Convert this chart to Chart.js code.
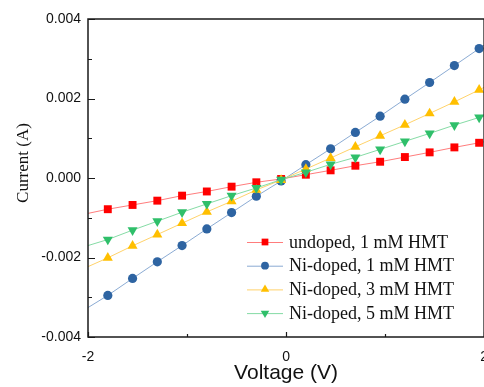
<!DOCTYPE html>
<html>
<head>
<meta charset="utf-8">
<script src="https://cdn.jsdelivr.net/npm/chart.js@4"></script>
<style>
  html, body { margin: 0; padding: 0; background: #fff; overflow: hidden; }
  #wrap { width: 484px; height: 387px; overflow: hidden; }
</style>
</head>
<body>
<div id="wrap"><canvas id="ivChart" width="500" height="387"></canvas></div>
<script>
// voltage points (the first and last only carry the line to the frame edge)
const voltage = [-2, -1.8, -1.55, -1.3, -1.05, -0.8, -0.55, -0.3, -0.05, 0.2, 0.45, 0.7, 0.95, 1.2, 1.45, 1.7, 1.95, 2];

const undoped1 = [-0.00089, -0.000785, -0.000678, -0.00057, -0.000444, -0.000339, -0.000218, -0.000108, -0.000025, 0.000083, 0.000193, 0.000309, 0.000409, 0.000527, 0.000645, 0.00077, 0.000886, 0.00091];
const niDoped1 = [-0.00326, -0.002954, -0.002527, -0.002108, -0.001699, -0.00128, -0.000871, -0.000459, -0.000075, 0.000334, 0.000735, 0.001147, 0.001556, 0.001982, 0.002402, 0.002828, 0.003255, 0.00334];
const niDoped3 = [-0.00223, -0.002008, -0.001706, -0.001423, -0.001137, -0.000853, -0.000585, -0.0003, -0.00005, 0.000226, 0.000502, 0.000785, 0.001061, 0.001338, 0.001624, 0.001915, 0.002216, 0.00228];
const niDoped5 = [-0.0017, -0.001548, -0.001312, -0.001087, -0.000861, -0.000652, -0.000444, -0.000251, -0.000043, 0.000143, 0.000344, 0.000519, 0.00072, 0.000921, 0.001122, 0.00133, 0.001523, 0.00156];

const seriesLabels = ['undoped, 1 mM HMT', 'Ni-doped, 1 mM HMT', 'Ni-doped, 3 mM HMT', 'Ni-doped, 5 mM HMT'];
const xLabelTicks = [-2, 0, 2];
const yLabelTicks = [-0.004, -0.002, 0, 0.002, 0.004];

function puntos(valores) {
    return voltage.map((v, i) => ({ x: v, y: valores[i] }));
}

// sin marcador en los extremos
function radio(r) {
    return ctx => (ctx.dataIndex === 0 || ctx.dataIndex === voltage.length - 1) ? 0 : r;
}

function serie(label, valores, color, linea, estilo, r, rot, orden) {
    return {
        label: label,
        data: puntos(valores),
        borderColor: linea,
        backgroundColor: color,
        pointBackgroundColor: color,
        pointBorderColor: color,
        pointBorderWidth: 0,
        borderWidth: 1,
        pointStyle: estilo,
        pointRotation: rot,
        pointRadius: radio(r),
        pointHoverRadius: radio(r),
        order: orden,
        tension: 0,
        _r: r
    };
}

function marcador(ctx, ds, x, y, escala) {
    const opts = {
        pointStyle: ds.pointStyle,
        rotation: ds.pointRotation,
        radius: ds._r * escala,
        borderWidth: 0
    };
    ctx.fillStyle = ds.pointBackgroundColor;
    ctx.strokeStyle = ds.pointBackgroundColor;
    Chart.helpers.drawPoint(ctx, opts, x, y);
}

// marco, ticks hacia adentro, titulo del eje y y leyenda
const extras = {
    id: 'extras',
    afterDraw(chart) {
        const ctx = chart.ctx;
        const a = chart.chartArea;
        const xs = chart.scales.x;
        const ys = chart.scales.y;
        ctx.save();
        ctx.strokeStyle = '#1a1a1a';
        ctx.lineWidth = 1.5;
        ctx.strokeRect(a.left, a.top, a.right - a.left, a.bottom - a.top);

        ctx.lineWidth = 1.2;
        ctx.beginPath();
        for (let v = -2; v <= 2; v += 1) {
            const px = Math.round(xs.getPixelForValue(v)) + 0.5;
            const len = (v % 2 === 0) ? 5 : 3;
            ctx.moveTo(px, a.bottom);
            ctx.lineTo(px, a.bottom - len);
        }
        for (let k = -4; k <= 4; k++) {
            const py = Math.round(ys.getPixelForValue(k * 0.001)) + 0.5;
            const len = (k % 2 === 0) ? 7 : 4;
            ctx.moveTo(a.left, py);
            ctx.lineTo(a.left + len, py);
        }
        ctx.stroke();

        // titulo eje y
        ctx.save();
        ctx.translate(24, 163);
        ctx.rotate(-Math.PI / 2);
        ctx.fillStyle = '#111';
        ctx.font = '17px "Liberation Serif", "Times New Roman", serif';
        ctx.textAlign = 'center';
        ctx.textBaseline = 'middle';
        ctx.fillText('Current (A)', 0, 0);
        ctx.restore();

        // leyenda
        const x0 = a.left + 159;
        const y0 = a.top + 223;
        ctx.font = '18px "Liberation Serif", "Times New Roman", serif';
        ctx.textAlign = 'left';
        ctx.textBaseline = 'middle';
        chart.data.datasets.forEach((ds, i) => {
            const y = y0 + i * 23.7;
            ctx.strokeStyle = ds.borderColor;
            ctx.lineWidth = 1;
            ctx.beginPath();
            ctx.moveTo(x0, y + 0.5);
            ctx.lineTo(x0 + 36, y + 0.5);
            ctx.stroke();
            marcador(ctx, ds, x0 + 18, y, 0.85);
            ctx.fillStyle = '#111';
            ctx.fillText(ds.label, x0 + 42, y + 1);
        });
        ctx.restore();
    }
};

const datasets = [
    serie(seriesLabels[0], undoped1, '#ff0000', 'rgba(255, 80, 80, 0.75)', 'rect', 5.6, 0, 4),
    serie(seriesLabels[1], niDoped1, '#2e64a2', 'rgba(110, 150, 200, 0.8)', 'circle', 4.6, 0, 3),
    serie(seriesLabels[2], niDoped3, '#ffbf00', 'rgba(255, 205, 90, 0.9)', 'triangle', 5.8, 0, 2),
    serie(seriesLabels[3], niDoped5, '#2fbf6a', 'rgba(120, 215, 155, 0.9)', 'triangle', 5.8, 180, 1)
];

new Chart(document.getElementById('ivChart').getContext('2d'), {
    type: 'line',
    data: { datasets: datasets },
    options: {
        responsive: false,
        animation: false,
        devicePixelRatio: 1,
        layout: { padding: { top: 19, right: 14, left: 0, bottom: 0 } },
        plugins: { legend: { display: false }, tooltip: { enabled: false } },
        scales: {
            x: {
                type: 'linear',
                min: -2,
                max: 2,
                afterFit: s => { s.height = 50; },
                grid: { display: false, drawTicks: false },
                border: { display: false },
                ticks: {
                    stepSize: 1,
                    padding: 12,
                    color: '#111',
                    font: { family: '"Liberation Sans", Arial, sans-serif', size: 14 },
                    callback: v => xLabelTicks.includes(v) ? String(v) : ''
                },
                title: {
                    display: true,
                    text: 'Voltage (V)',
                    color: '#111',
                    font: { family: '"Liberation Sans", Arial, sans-serif', size: 21, lineHeight: 1 },
                    padding: { top: 0, bottom: 3 }
                }
            },
            y: {
                min: -0.004,
                max: 0.004,
                afterFit: s => { s.width = 88; },
                grid: { display: false, drawTicks: false },
                border: { display: false },
                ticks: {
                    stepSize: 0.001,
                    padding: 7,
                    color: '#111',
                    font: { family: '"Liberation Sans", Arial, sans-serif', size: 14 },
                    callback: v => yLabelTicks.some(t => Math.abs(t - v) < 1e-9) ? v.toFixed(3) : ''
                }
            }
        }
    },
    plugins: [extras]
});
</script>
</body>
</html>
